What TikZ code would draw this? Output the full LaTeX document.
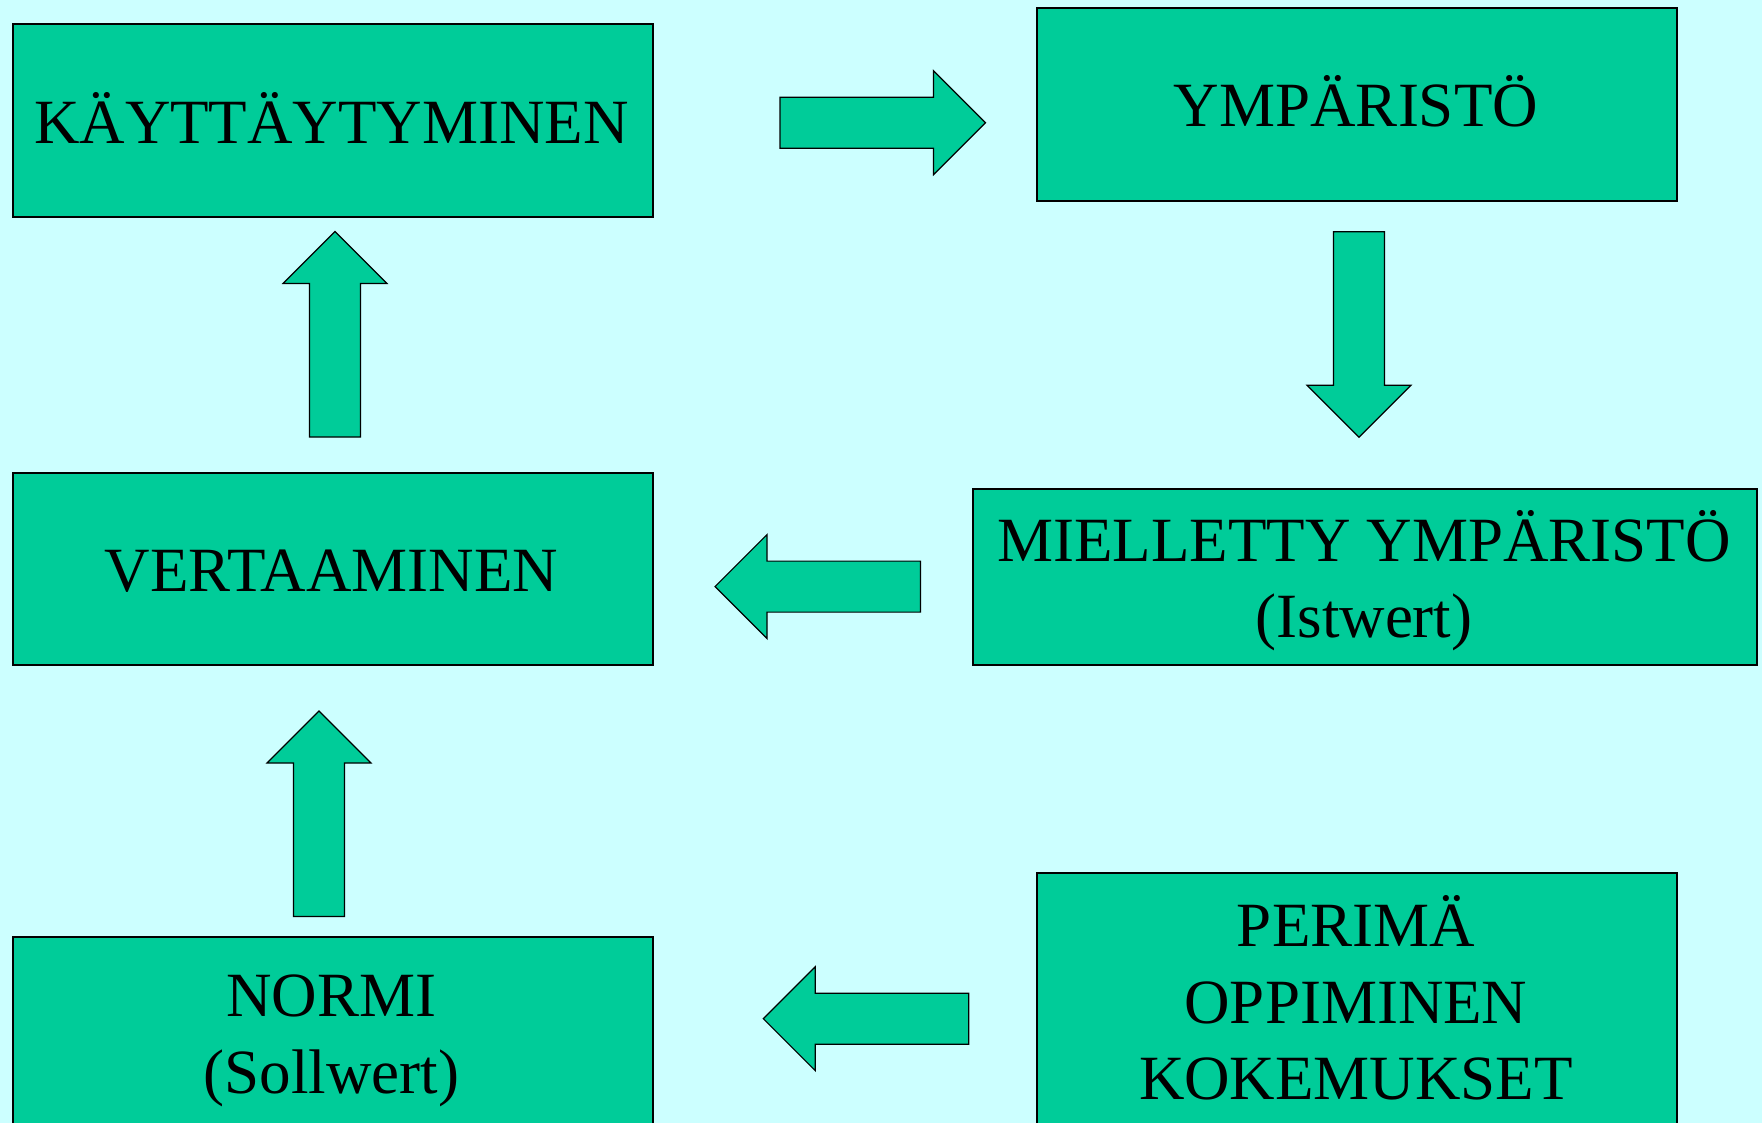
\documentclass[tikz,border=0pt]{standalone}
\usepackage{fontspec}
\setmainfont{Liberation Serif}
\definecolor{bgcyan}{HTML}{CCFFFF}
\definecolor{boxgreen}{HTML}{00CC99}
\tikzset{
	box/.style={draw=black, line width=1pt, fill=boxgreen, inner sep=0pt, anchor=north west},
	boxtext/.style={anchor=base, inner sep=0pt, font=\fontsize{31.5}{38}\selectfont},
	blockarrow/.style={draw=black, line width=0.6pt, fill=boxgreen}
}
\begin{document}
\begin{tikzpicture}[x=0.5pt,y=0.5pt,yscale=-1,xscale=1]
		% Set the page to 1762 x 1123 and paint the background
		\useasboundingbox (0,0) rectangle (1762,1123);
		\clip (0,0) rectangle (1762,1123);
		\fill[bgcyan] (0,0) rectangle (1762,1123);

		% The boxes in green
		\node[box, minimum width=320.25pt, minimum height=96.5pt] (kaytt) at (11.5,23) {};
		\node[box, minimum width=320pt, minimum height=96.25pt] (ymparisto) at (1036,7.5) {};
		\node[box, minimum width=320.25pt, minimum height=96pt] (vertaa) at (11.5,472) {};
		\node[box, minimum width=391.75pt, minimum height=88pt] (mielletty) at (972,488) {};
		\node[box, minimum width=320.25pt, minimum height=125pt] (normi) at (11.5,936) {};
		\node[box, minimum width=320pt, minimum height=150pt] (perima) at (1036,871.5) {};

		% The words in the boxes
		\node[boxtext] (kaytt-t) at (331.5,143.3) {KÄYTTÄYTYMINEN};
		\node[boxtext] (ymparisto-t) at (1356,126.7) {YMPÄRISTÖ};
		\node[boxtext] (vertaa-t) at (331.5,591.7) {VERTAAMINEN};
		\node[boxtext] (mielletty-t1) at (1364,561.5) {MIELLETTY YMPÄRISTÖ};
		\node[boxtext] (mielletty-t2) at (1364,637.6) {(Istwert)};
		\node[boxtext] (normi-t1) at (331.5,1016.7) {NORMI};
		\node[boxtext] (normi-t2) at (331.5,1093) {(Sollwert)};
		\node[boxtext] (perima-t1) at (1356,946) {PERIMÄ};
		\node[boxtext] (perima-t2) at (1356,1023.6) {OPPIMINEN};
		\node[boxtext] (perima-t3) at (1356,1099) {KOKEMUKSET};

		% The block arrow pointing right, from KÄYTTÄYTYMINEN to YMPÄRISTÖ
		\draw[blockarrow, shift={(780,122.7)}]
		(0,-25.5) -- (153.5,-25.5) -- (153.5,-52) -- (205.5,0) -- (153.5,52) -- (153.5,25.5) -- (0,25.5) -- cycle;

		% The block arrow pointing down, from YMPÄRISTÖ to MIELLETTY YMPÄRISTÖ
		\draw[blockarrow, shift={(1359,231.7)}, rotate=90]
		(0,-25.5) -- (153.5,-25.5) -- (153.5,-52) -- (205.5,0) -- (153.5,52) -- (153.5,25.5) -- (0,25.5) -- cycle;

		% The block arrow pointing up, from VERTAAMINEN to KÄYTTÄYTYMINEN
		\draw[blockarrow, shift={(335,437)}, rotate=-90]
		(0,-25.5) -- (153.5,-25.5) -- (153.5,-52) -- (205.5,0) -- (153.5,52) -- (153.5,25.5) -- (0,25.5) -- cycle;

		% The block arrow pointing left, from MIELLETTY YMPÄRISTÖ to VERTAAMINEN
		\draw[blockarrow, shift={(920.5,586.6)}, rotate=180]
		(0,-25.5) -- (153.5,-25.5) -- (153.5,-52) -- (205.5,0) -- (153.5,52) -- (153.5,25.5) -- (0,25.5) -- cycle;

		% The block arrow pointing up, from NORMI to VERTAAMINEN
		\draw[blockarrow, shift={(319,916.5)}, rotate=-90]
		(0,-25.5) -- (153.5,-25.5) -- (153.5,-52) -- (205.5,0) -- (153.5,52) -- (153.5,25.5) -- (0,25.5) -- cycle;

		% The block arrow pointing left, from PERIMÄ to NORMI
		\draw[blockarrow, shift={(968.8,1018.7)}, rotate=180]
		(0,-25.5) -- (153.5,-25.5) -- (153.5,-52) -- (205.5,0) -- (153.5,52) -- (153.5,25.5) -- (0,25.5) -- cycle;
	\end{tikzpicture}
\end{document}
